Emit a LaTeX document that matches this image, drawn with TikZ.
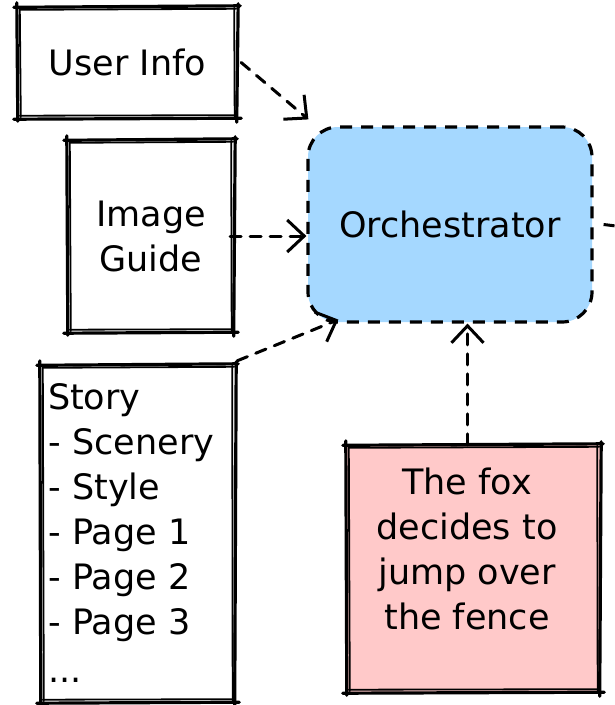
\documentclass[tikz,border=0pt]{standalone}
\usepackage{fontspec}
\setmainfont{DejaVu Sans}
\usetikzlibrary{arrows.meta}
\definecolor{orchblue}{HTML}{A5D8FF}
\definecolor{foxpink}{HTML}{FFC9C9}
\newcommand\skbox[1]{%
  \draw[skA] ([shift={(-4,0.5)}]#1.north west) -- ([shift={(3,-1)}]#1.north east);
  \draw[skB] ([shift={(2,3)}]#1.north west) -- ([shift={(-1,2)}]#1.north east);
  \draw[skA] ([shift={(1,-3)}]#1.north east) -- ([shift={(-0.5,4)}]#1.south east);
  \draw[skB] ([shift={(-3,1)}]#1.north east) -- ([shift={(-2.5,-1)}]#1.south east);
  \draw[skA] ([shift={(4,0)}]#1.south east) -- ([shift={(-4,1)}]#1.south west);
  \draw[skB] ([shift={(-1,-3)}]#1.south east) -- ([shift={(2,-2.5)}]#1.south west);
  \draw[skA] ([shift={(0,3)}]#1.south west) -- ([shift={(-1,-4)}]#1.north west);
  \draw[skB] ([shift={(3,-1)}]#1.south west) -- ([shift={(2,2)}]#1.north west);
}
\begin{document}
\begin{tikzpicture}[x=1pt,y=-1pt,
  every node/.style={font=\fontsize{35}{45}\selectfont},
  skA/.style={line width=3.2pt,line cap=round,black},
  skB/.style={line width=1.8pt,line cap=round,black},
  skbase/.style={rectangle,draw=none,inner sep=0pt,align=center},
  orchbox/.style={rectangle,rounded corners=30pt,fill=orchblue,draw=black,
    line width=3.2pt,dash pattern=on 12pt off 9pt},
  conn/.style={draw=black,line width=3pt,line cap=round,
    dash pattern=on 11pt off 9pt,
    -{Straight Barb[length=17pt,width=32pt,line width=3pt]}},
  plainconn/.style={draw=black,line width=3pt,dash pattern=on 11pt off 9pt}
]
\useasboundingbox (0,0) rectangle (615,705);

% nodes
\node[skbase,minimum width=219pt,minimum height=111pt] (user) at (127.5,62.5) {User Info};
\node[skbase,minimum width=166pt,minimum height=192pt] (guide) at (151,236) {Image\\Guide};
\node[skbase,minimum width=194pt,minimum height=337pt,text width=180pt,
      inner xsep=7pt,align=left] (story) at (138,533.5)
  {Story\\- Scenery\\- Style\\- Page 1\\- Page 2\\- Page 3\\[3pt]...};
\node[orchbox,minimum width=284pt,minimum height=195pt] (orch) at (450,224.5) {Orchestrator};
\node[skbase,fill=foxpink,minimum width=253pt,minimum height=247pt] (fox) at (473.5,568.5) {};
\node[align=center,inner sep=0pt] (foxtxt) at (467,549) {The fox\\decides to\\jump over\\the fence};

% sketchy borders
\skbox{user}
\skbox{guide}
\skbox{story}
\skbox{fox}

% connectors
\coordinate (offright) at (616,226);
\draw[conn] ([xshift=4pt]user.east) -- ([shift={(2,-6)}]orch.north west);
\draw[conn] ([xshift=-4pt]guide.east) -- (guide.east -| orch.west);
\draw[conn] ([shift={(2,-4)}]story.north east) -- ([shift={(32,-4)}]orch.south west);
\draw[conn] ([xshift=-6pt]fox.north) -- ([xshift=-6pt]fox.north |- orch.south);
\draw[plainconn] ([xshift=10pt]orch.east) -- (offright);
\end{tikzpicture}
\end{document}
